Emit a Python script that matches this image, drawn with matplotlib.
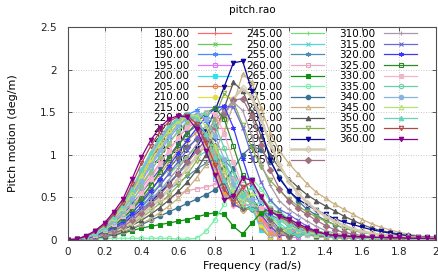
import matplotlib
matplotlib.use('Agg')
import matplotlib.pyplot as plt
from matplotlib.lines import Line2D

plt.rcParams['font.family'] = ['DejaVu Sans']
plt.rcParams['font.size'] = 7.5

freq = [0.00, 0.05, 0.10, 0.15, 0.20, 0.25, 0.30, 0.35, 0.40, 0.45,
        0.50, 0.55, 0.60, 0.65, 0.70, 0.75, 0.80, 0.85, 0.90, 0.95,
        1.00, 1.05, 1.10, 1.15, 1.20, 1.25, 1.30, 1.35, 1.40, 1.45,
        1.50, 1.55, 1.60, 1.65, 1.70, 1.75, 1.80, 1.85, 1.90, 1.95, 2.00]

headings = ['180.00', '185.00', '190.00', '195.00', '200.00', '205.00', '210.00',
            '215.00', '220.00', '225.00', '230.00', '235.00', '240.00',
            '245.00', '250.00', '255.00', '260.00', '265.00', '270.00', '275.00',
            '280.00', '285.00', '290.00', '295.00', '300.00', '305.00',
            '310.00', '315.00', '320.00', '325.00', '330.00', '335.00', '340.00',
            '345.00', '350.00', '355.00', '360.00']

r180 = [0,0.01,0.05,0.1,0.19,0.3,0.44,0.61,0.8,0.99,1.17,1.32,1.42,1.46,1.4,1.14,0.78,0.52,0.54,0.62,0.5,0.28,0.1,0.04,0.09,0.11,0.08,0.05,0.04,0.03,0.03,0.02,0.02,0.02,0.02,0.01,0.01,0.01,0.01,0.01,0.01]
r185 = [0,0.01,0.04,0.1,0.18,0.28,0.42,0.58,0.76,0.95,1.13,1.29,1.41,1.48,1.45,1.22,0.86,0.56,0.5,0.58,0.5,0.3,0.13,0.05,0.07,0.1,0.08,0.06,0.04,0.04,0.03,0.03,0.02,0.02,0.02,0.01,0.01,0.01,0.01,0.01,0.01]
r190 = [0,0.01,0.04,0.09,0.17,0.27,0.4,0.55,0.72,0.9,1.07,1.23,1.37,1.47,1.52,1.4,1.08,0.72,0.5,0.5,0.48,0.36,0.22,0.1,0.04,0.06,0.08,0.07,0.05,0.04,0.03,0.03,0.02,0.02,0.02,0.01,0.01,0.01,0.01,0.01,0.01]
r195 = [0,0.01,0.04,0.1,0.19,0.3,0.44,0.62,0.81,1.0,1.18,1.33,1.44,1.47,1.37,1.08,0.72,0.52,0.56,0.55,0.42,0.27,0.16,0.08,0.03,0.03,0.08,0.08,0.06,0.05,0.04,0.03,0.03,0.02,0.02,0.02,0.01,0.01,0.01,0.01,0.01]
r200 = [0,0.01,0.04,0.1,0.18,0.29,0.43,0.6,0.79,0.98,1.16,1.31,1.43,1.48,1.4,1.12,0.75,0.5,0.55,0.58,0.38,0.12,0.04,0.13,0.15,0.1,0.06,0.04,0.03,0.03,0.02,0.02,0.02,0.01,0.01,0.01,0.01,0.01,0.01,0.01,0.01]
r205 = [0,0.01,0.04,0.1,0.18,0.28,0.42,0.58,0.76,0.94,1.12,1.28,1.4,1.47,1.42,1.16,0.78,0.5,0.52,0.58,0.42,0.15,0.02,0.1,0.15,0.12,0.07,0.04,0.03,0.03,0.02,0.02,0.02,0.02,0.01,0.01,0.01,0.01,0.01,0.01,0.01]
r210 = [0,0.01,0.04,0.09,0.17,0.27,0.4,0.56,0.73,0.91,1.08,1.24,1.37,1.46,1.44,1.2,0.82,0.5,0.48,0.56,0.44,0.18,0.03,0.07,0.14,0.13,0.08,0.05,0.03,0.03,0.03,0.02,0.02,0.02,0.02,0.01,0.01,0.01,0.01,0.01,0.01]
r215 = [0,0.01,0.04,0.09,0.16,0.26,0.38,0.53,0.69,0.86,1.03,1.19,1.33,1.43,1.44,1.22,0.86,0.52,0.45,0.52,0.45,0.22,0.06,0.04,0.12,0.13,0.09,0.05,0.04,0.03,0.03,0.03,0.02,0.02,0.02,0.01,0.01,0.01,0.01,0.01,0.01]
r220 = [0,0.01,0.04,0.08,0.15,0.24,0.36,0.5,0.65,0.81,0.97,1.13,1.28,1.39,1.42,1.24,0.9,0.56,0.42,0.47,0.44,0.25,0.09,0.03,0.1,0.12,0.09,0.06,0.04,0.04,0.03,0.03,0.02,0.02,0.02,0.01,0.01,0.01,0.01,0.01,0.01]
r225 = [0,0.01,0.04,0.08,0.14,0.22,0.33,0.46,0.6,0.75,0.9,1.05,1.2,1.32,1.38,1.26,0.96,0.62,0.4,0.4,0.42,0.28,0.12,0.04,0.08,0.11,0.09,0.06,0.05,0.04,0.03,0.03,0.02,0.02,0.02,0.01,0.01,0.01,0.01,0.01,0.01]
r230 = [0,0.01,0.03,0.07,0.13,0.2,0.3,0.42,0.55,0.69,0.83,0.98,1.13,1.26,1.34,1.26,1.0,0.68,0.42,0.36,0.4,0.3,0.16,0.06,0.05,0.1,0.09,0.07,0.05,0.04,0.03,0.03,0.02,0.02,0.02,0.01,0.01,0.01,0.01,0.01,0.01]
r235 = [0,0.01,0.03,0.07,0.12,0.19,0.28,0.39,0.51,0.64,0.77,0.91,1.05,1.17,1.26,1.24,1.04,0.75,0.48,0.35,0.38,0.33,0.2,0.09,0.04,0.08,0.09,0.07,0.05,0.04,0.03,0.03,0.02,0.02,0.02,0.02,0.01,0.01,0.01,0.01,0.01]
r240 = [0,0.01,0.03,0.06,0.11,0.17,0.26,0.36,0.47,0.59,0.71,0.84,0.97,1.09,1.18,1.22,1.1,0.84,0.55,0.37,0.36,0.35,0.25,0.13,0.05,0.06,0.08,0.07,0.06,0.05,0.04,0.03,0.03,0.02,0.02,0.02,0.01,0.01,0.01,0.01,0.01]
r245 = [0,0.01,0.03,0.06,0.1,0.16,0.24,0.33,0.43,0.54,0.65,0.77,0.88,0.99,1.08,1.14,1.1,0.9,0.62,0.4,0.35,0.36,0.28,0.17,0.08,0.05,0.07,0.07,0.06,0.05,0.04,0.03,0.03,0.02,0.02,0.02,0.01,0.01,0.01,0.01,0.01]
r250 = [0,0.01,0.02,0.05,0.1,0.15,0.22,0.3,0.39,0.48,0.58,0.68,0.78,0.88,0.97,1.04,1.05,0.94,0.7,0.46,0.36,0.35,0.3,0.2,0.11,0.06,0.06,0.06,0.05,0.04,0.03,0.03,0.02,0.02,0.02,0.02,0.01,0.01,0.01,0.01,0.01]
r255 = [0,0.01,0.02,0.05,0.09,0.14,0.2,0.27,0.35,0.43,0.51,0.59,0.67,0.75,0.83,0.9,0.95,0.94,0.82,0.6,0.42,0.33,0.3,0.24,0.16,0.09,0.06,0.05,0.05,0.04,0.04,0.03,0.03,0.02,0.02,0.02,0.01,0.01,0.01,0.01,0.01]
r260 = [0,0.01,0.02,0.05,0.08,0.13,0.19,0.26,0.33,0.4,0.45,0.5,0.54,0.58,0.6,0.62,0.65,0.69,0.72,0.7,0.62,0.5,0.38,0.28,0.2,0.14,0.1,0.08,0.06,0.05,0.04,0.03,0.03,0.02,0.02,0.02,0.01,0.01,0.01,0.01,0.01]
r265 = [0,0,0.01,0.02,0.04,0.06,0.08,0.11,0.14,0.16,0.18,0.2,0.22,0.24,0.27,0.3,0.32,0.3,0.16,0.07,0.2,0.32,0.36,0.32,0.25,0.19,0.14,0.11,0.08,0.06,0.05,0.04,0.03,0.03,0.02,0.02,0.02,0.01,0.01,0.01,0.01]
r270 = [0,0,0.01,0.01,0.02,0.02,0.02,0.02,0.02,0.02,0.02,0.02,0.01,0.01,0.02,0.1,0.24,0.42,0.62,0.74,0.72,0.6,0.46,0.34,0.25,0.18,0.13,0.1,0.08,0.06,0.05,0.04,0.03,0.03,0.02,0.02,0.02,0.01,0.01,0.01,0.01]
r275 = [0,0,0.01,0.02,0.04,0.06,0.09,0.13,0.18,0.23,0.28,0.33,0.38,0.43,0.48,0.53,0.59,0.68,0.84,1.0,1.1,1.06,0.92,0.74,0.58,0.46,0.36,0.29,0.23,0.18,0.14,0.11,0.09,0.07,0.06,0.05,0.04,0.03,0.03,0.02,0.02]
r280 = [0,0.01,0.01,0.03,0.05,0.07,0.1,0.14,0.19,0.25,0.32,0.4,0.49,0.6,0.73,0.88,1.05,1.27,1.6,1.95,1.85,1.55,1.25,1.05,0.9,0.78,0.66,0.56,0.49,0.42,0.36,0.3,0.24,0.19,0.15,0.12,0.09,0.07,0.05,0.04,0.03]
r285 = [0,0.01,0.01,0.03,0.05,0.08,0.12,0.17,0.23,0.3,0.38,0.47,0.57,0.68,0.82,1.0,1.25,1.55,1.85,1.75,1.5,1.22,1.0,0.84,0.72,0.62,0.53,0.46,0.4,0.34,0.28,0.23,0.18,0.14,0.11,0.09,0.07,0.05,0.04,0.03,0.03]
r290 = [0,0.01,0.02,0.03,0.06,0.09,0.13,0.19,0.26,0.34,0.43,0.53,0.64,0.77,0.93,1.15,1.45,1.72,1.62,1.35,1.08,0.86,0.7,0.58,0.48,0.4,0.33,0.27,0.22,0.18,0.14,0.11,0.09,0.07,0.06,0.05,0.04,0.03,0.03,0.02,0.02]
r295 = [0,0.01,0.02,0.04,0.08,0.13,0.19,0.27,0.36,0.45,0.55,0.66,0.78,0.92,1.08,1.28,1.52,1.8,2.08,2.1,1.75,1.3,0.94,0.72,0.58,0.48,0.41,0.35,0.3,0.25,0.21,0.18,0.15,0.12,0.1,0.08,0.06,0.05,0.04,0.03,0.03]
r300 = [0,0.01,0.02,0.04,0.07,0.1,0.15,0.21,0.29,0.38,0.48,0.59,0.71,0.84,0.98,1.13,1.29,1.46,1.66,1.78,1.68,1.42,1.13,0.88,0.69,0.55,0.44,0.35,0.28,0.22,0.17,0.13,0.1,0.08,0.06,0.05,0.04,0.03,0.03,0.02,0.02]
r305 = [0,0.01,0.02,0.04,0.07,0.11,0.16,0.23,0.32,0.42,0.53,0.65,0.78,0.91,1.04,1.18,1.33,1.48,1.64,1.66,1.45,1.12,0.82,0.6,0.46,0.37,0.3,0.23,0.17,0.12,0.09,0.07,0.05,0.04,0.03,0.03,0.02,0.02,0.02,0.01,0.01]
r310 = [0,0.01,0.02,0.04,0.08,0.12,0.18,0.26,0.35,0.46,0.58,0.71,0.84,0.98,1.12,1.26,1.4,1.53,1.62,1.52,1.22,0.9,0.64,0.46,0.36,0.29,0.22,0.16,0.11,0.08,0.06,0.05,0.04,0.03,0.03,0.02,0.02,0.02,0.01,0.01,0.01]
r315 = [0,0.01,0.02,0.05,0.09,0.14,0.2,0.29,0.39,0.51,0.64,0.78,0.92,1.06,1.2,1.34,1.47,1.57,1.56,1.32,0.98,0.68,0.47,0.36,0.3,0.23,0.16,0.1,0.07,0.05,0.05,0.04,0.03,0.03,0.02,0.02,0.02,0.01,0.01,0.01,0.01]
r320 = [0,0.01,0.02,0.05,0.1,0.15,0.22,0.32,0.44,0.57,0.72,0.87,1.02,1.17,1.31,1.44,1.55,1.57,1.32,0.95,0.62,0.4,0.32,0.3,0.24,0.15,0.08,0.05,0.05,0.05,0.04,0.03,0.03,0.02,0.02,0.02,0.02,0.01,0.01,0.01,0.01]
r325 = [0,0.01,0.03,0.06,0.11,0.17,0.25,0.36,0.49,0.64,0.8,0.96,1.11,1.25,1.38,1.49,1.55,1.42,1.1,0.76,0.48,0.35,0.34,0.3,0.21,0.12,0.06,0.05,0.06,0.05,0.04,0.03,0.03,0.02,0.02,0.02,0.02,0.01,0.01,0.01,0.01]
r330 = [0,0.01,0.03,0.06,0.12,0.19,0.28,0.4,0.55,0.72,0.89,1.05,1.2,1.33,1.43,1.5,1.48,1.25,0.92,0.62,0.42,0.38,0.37,0.29,0.18,0.1,0.06,0.06,0.06,0.05,0.04,0.03,0.03,0.02,0.02,0.02,0.02,0.01,0.01,0.01,0.01]
r335 = [0,0.01,0.03,0.07,0.13,0.21,0.31,0.45,0.62,0.8,0.98,1.14,1.28,1.39,1.47,1.49,1.35,1.08,0.78,0.53,0.42,0.44,0.38,0.27,0.16,0.09,0.07,0.07,0.06,0.05,0.04,0.03,0.03,0.02,0.02,0.02,0.02,0.01,0.01,0.01,0.01]
r340 = [0,0.01,0.03,0.08,0.15,0.24,0.35,0.5,0.69,0.88,1.06,1.22,1.35,1.44,1.48,1.42,1.22,0.95,0.66,0.47,0.48,0.47,0.37,0.25,0.16,0.1,0.08,0.07,0.06,0.05,0.04,0.03,0.03,0.02,0.02,0.02,0.02,0.02,0.01,0.01,0.01]
r345 = [0,0.01,0.04,0.09,0.16,0.26,0.38,0.55,0.76,0.96,1.14,1.29,1.4,1.46,1.46,1.34,1.1,0.82,0.56,0.46,0.55,0.5,0.37,0.25,0.17,0.12,0.09,0.07,0.06,0.05,0.04,0.03,0.03,0.02,0.02,0.02,0.02,0.02,0.01,0.01,0.01]
r350 = [0,0.01,0.04,0.09,0.17,0.28,0.41,0.6,0.83,1.03,1.21,1.35,1.43,1.47,1.42,1.24,0.98,0.7,0.48,0.53,0.62,0.52,0.36,0.25,0.19,0.14,0.11,0.08,0.06,0.05,0.04,0.03,0.03,0.03,0.02,0.02,0.02,0.02,0.02,0.01,0.01]
r355 = [0,0.01,0.04,0.1,0.18,0.3,0.44,0.66,0.9,1.1,1.27,1.39,1.45,1.46,1.36,1.14,0.88,0.6,0.45,0.62,0.68,0.52,0.35,0.27,0.22,0.17,0.12,0.09,0.07,0.05,0.04,0.04,0.03,0.03,0.03,0.02,0.02,0.02,0.02,0.02,0.01]
r360 = [0,0.01,0.05,0.11,0.2,0.33,0.48,0.72,0.97,1.17,1.32,1.42,1.46,1.44,1.3,1.05,0.76,0.47,0.52,0.73,0.7,0.5,0.33,0.28,0.25,0.19,0.14,0.1,0.07,0.05,0.05,0.04,0.04,0.03,0.03,0.03,0.03,0.02,0.02,0.02,0.02]

series = [r180, r185, r190, r195, r200, r205, r210, r215, r220, r225, r230, r235, r240,
          r245, r250, r255, r260, r265, r270, r275, r280, r285, r290, r295, r300, r305,
          r310, r315, r320, r325, r330, r335, r340, r345, r350, r355, r360]

colors = ['#ff6a6a', '#66cc55', '#4a8cff', '#dd77ff', '#33e0f0', '#e08050', '#e0e040',
          '#9a9aff', '#f0a030', '#ff80c8', '#5050c0', '#c8a060', '#707070',
          '#77dd77', '#55d5d5', '#4a90b0', '#e8a8c0', '#109010', '#77f0a8', '#3a7090',
          '#c8b080', '#585858', '#88b050', '#0a0a9a', '#d4cab0', '#a07080',
          '#a898a8', '#6868d8', '#3838ff', '#2a8a2a', '#f4b4c8', '#66d0a8', '#88b4e0',
          '#b8e070', '#66d4b8', '#b04848', '#8a008a']

shapes = ['+', 'x', (6, 2, 0), 's', 's', 'o', 'o', '^', '^', 'v', 'v', 'D', 'D']
filled = [True, True, True, False, True, False, True, False, True, False, True, False, True]

fig = plt.figure(figsize=(4.38, 2.77), dpi=100)
ax = fig.add_axes([0.1546, 0.1336, 0.8408, 0.7689])

for i, (lab, vals) in enumerate(zip(headings, series)):
    m = shapes[i % 13]
    f = filled[i % 13]
    c = colors[i]
    lw = 1.8 if lab == '300.00' else 0.9
    ax.plot(freq, vals, color=c, lw=lw, marker=m, ms=3.2, mew=0.8,
            mfc=c if f else 'none', mec=c, label=lab, zorder=2)

ax.set_xlim(0, 2)
ax.set_ylim(0, 2.5)
ax.set_xticks([0, 0.2, 0.4, 0.6, 0.8, 1.0, 1.2, 1.4, 1.6, 1.8, 2.0])
ax.set_xticklabels(['0', '0.2', '0.4', '0.6', '0.8', '1', '1.2', '1.4', '1.6', '1.8', '2'])
ax.set_yticks([0, 0.5, 1.0, 1.5, 2.0, 2.5])
ax.set_yticklabels(['0', '0.5', '1', '1.5', '2', '2.5'])
ax.tick_params(direction='in', top=True, right=True, length=3, width=0.6,
               color='#404040', labelcolor='#222222', labelsize=7.5)
ax.tick_params(axis='y', pad=8)
ax.tick_params(axis='x', pad=5)
for s in ax.spines.values():
    s.set_color('#505050')
    s.set_linewidth(0.8)
ax.grid(True, color='#b8b8b8', linestyle=(0, (1, 2)), linewidth=0.6)
ax.set_axisbelow(True)

ax.set_title('pitch.rao', fontsize=7.5, pad=10)
ax.set_xlabel('Frequency (rad/s)', fontsize=8)
ax.set_ylabel('Pitch motion (deg/m)', fontsize=8)
ax.xaxis.set_label_coords(0.5, -0.10)
ax.yaxis.set_label_coords(-0.135, 0.5)

handles, labels = ax.get_legend_handles_labels()
blank = Line2D([], [], linestyle='none', marker=None)
handles += [blank, blank]
labels += ['', '']
leg = ax.legend(handles, labels, ncol=3, loc='upper left', bbox_to_anchor=(0.227, 1.0),
                frameon=False, markerfirst=False, fontsize=7.5, handlelength=3.2,
                handletextpad=0.8, labelspacing=0.05, columnspacing=1.45,
                borderaxespad=0.0, borderpad=0.2, numpoints=1)
leg.set_zorder(1)

fig.savefig('out.png', dpi=100)
